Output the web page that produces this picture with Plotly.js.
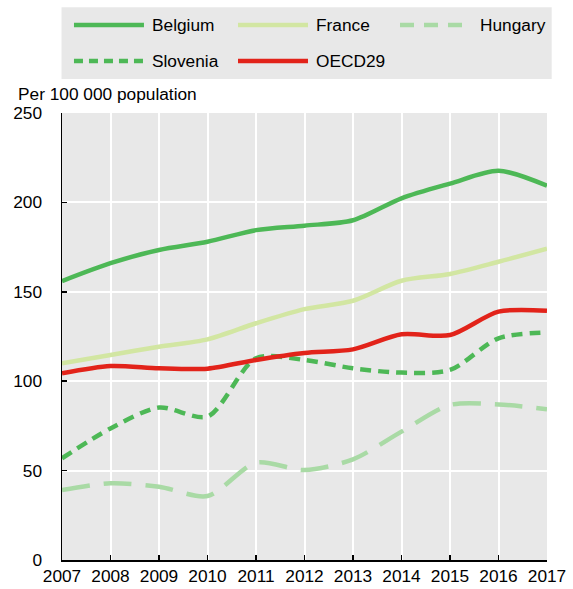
<!DOCTYPE html>
<html>
<head>
<meta charset="utf-8">
<script src="https://cdn.plot.ly/plotly-3.0.1.min.js"></script>
<style>html,body{margin:0;padding:0;background:#fff;}#chart{width:573px;height:589px;}</style>
</head>
<body>
<div id="chart"></div>
<script>
const years = [2007, 2008, 2009, 2010, 2011, 2012, 2013, 2014, 2015, 2016, 2017];
const belgium  = [156, 166, 173.4, 178, 184.5, 187, 190, 202.3, 210.5, 217.7, 209.3];
const france   = [110, 114.7, 119.3, 123.4, 132.4, 140.3, 145, 156.2, 160, 166.8, 174.1];
const hungary  = [39.1, 42.9, 41, 35.8, 54.4, 50.3, 56.3, 71.8, 86.7, 87, 84.3];
const slovenia = [56.9, 73.6, 85.3, 80.2, 112.8, 111.9, 107.2, 104.8, 106.3, 124, 127.3];
const oecd29   = [104.4, 108.5, 107.2, 107, 111.9, 115.8, 117.8, 126.2, 125.8, 138.9, 139.4];
const yTicks = [0, 50, 100, 150, 200, 250];

const FONT = "'Liberation Sans', Arial, sans-serif";
const FS = 17.3;
const C = {
  Belgium: '#4DB856',
  France: '#D2E6A2',
  Hungary: '#A9DAA5',
  Slovenia: '#4DB856',
  OECD29: '#E2231A'
};
const series = [
  {name: 'Belgium', y: belgium, dash: 'solid'},
  {name: 'France', y: france, dash: 'solid'},
  {name: 'Hungary', y: hungary, dash: '28px,14px'},
  {name: 'Slovenia', y: slovenia, dash: '11px,7px'},
  {name: 'OECD29', y: oecd29, dash: 'solid'}
];
const order = ['Hungary', 'France', 'Slovenia', 'Belgium', 'OECD29'];
const traces = order.map(n => {
  const s = series.find(q => q.name === n);
  return {
    x: years, y: s.y, name: s.name, type: 'scatter', mode: 'lines',
    line: {color: C[s.name], width: 4.5, dash: s.dash, shape: 'spline', smoothing: 0.8},
    showlegend: false, hoverinfo: 'x+y+name'
  };
});

// custom legend (paper coordinates)
const legendItems = [
  {name: 'Belgium', x0: 0.0247, x1: 0.169, tx: 0.1814, y: 1.1969},
  {name: 'France', x0: 0.3629, x1: 0.5072, tx: 0.5196, y: 1.1969},
  {name: 'Hungary', x0: 0.6969, x1: 0.8433, tx: 0.8577, y: 1.1969},
  {name: 'Slovenia', x0: 0.0247, x1: 0.169, tx: 0.1814, y: 1.1163},
  {name: 'OECD29', x0: 0.3629, x1: 0.5072, tx: 0.5196, y: 1.1163}
];
const shapes = [{
  type: 'rect', xref: 'paper', yref: 'paper', x0: -0.001, x1: 1.0097, y0: 1.076, y1: 1.2365,
  fillcolor: '#E8E8E8', line: {width: 0}, layer: 'below'
}];
const annotations = [{
  xref: 'paper', yref: 'paper', x: -0.095, y: 1.0435, xanchor: 'left', yanchor: 'middle',
  text: 'Per 100 000 population', showarrow: false, font: {family: FONT, size: FS, color: '#000'}
}];
legendItems.forEach(it => {
  shapes.push({
    type: 'line', xref: 'paper', yref: 'paper', x0: it.x0, x1: it.x1, y0: it.y, y1: it.y,
    line: {color: C[it.name], width: 4.5, dash: it.name === 'Hungary' ? '14px,10px' : (it.name === 'Slovenia' ? '9px,6px' : 'solid')}
  });
  annotations.push({
    xref: 'paper', yref: 'paper', x: it.tx, y: it.y, xanchor: 'left', yanchor: 'middle',
    text: it.name, showarrow: false, font: {family: FONT, size: FS, color: '#000'}
  });
});

const layout = {
  width: 573, height: 589,
  margin: {l: 62, r: 26, t: 113, b: 29, pad: 0},
  paper_bgcolor: '#fff', plot_bgcolor: '#E8E8E8',
  font: {family: FONT, size: FS, color: '#000'},
  showlegend: false,
  xaxis: {
    range: [2007, 2017], tickvals: years, ticktext: years.map(String),
    showgrid: true, gridcolor: '#fff', gridwidth: 2,
    showline: true, linecolor: '#000', linewidth: 1.5,
    ticks: 'inside', ticklen: 5, tickcolor: '#000', tickwidth: 1.5,
    zeroline: false, tickfont: {family: FONT, size: FS}
  },
  yaxis: {
    range: [0, 250], tickvals: yTicks, ticktext: yTicks.map(String),
    showgrid: true, gridcolor: '#fff', gridwidth: 2,
    showline: true, linecolor: '#000', linewidth: 1.5,
    ticks: 'inside', ticklen: 5, tickcolor: '#000', tickwidth: 1.5,
    ticklabelstandoff: 15,
    zeroline: false, tickfont: {family: FONT, size: FS}
  },
  shapes: shapes,
  annotations: annotations
};
Plotly.newPlot('chart', traces, layout, {displayModeBar: false, staticPlot: true});
</script>
</body>
</html>
